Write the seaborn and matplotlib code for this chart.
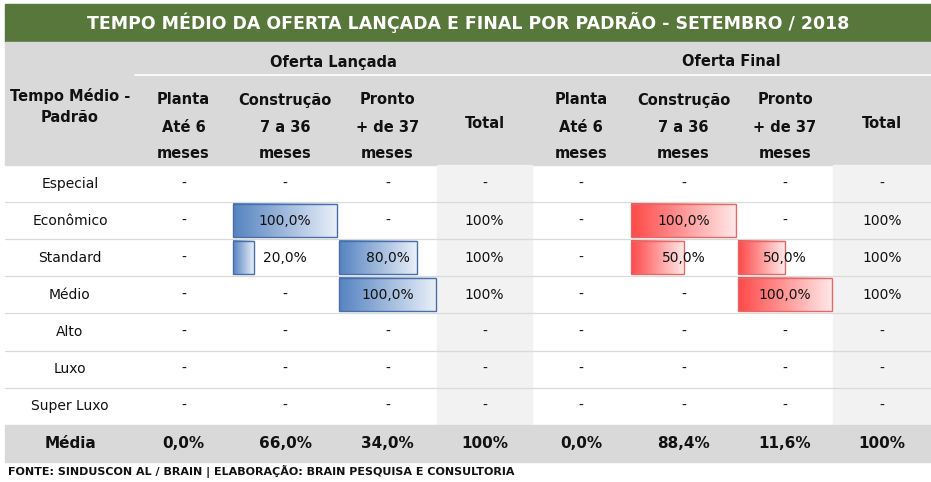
import numpy as np
import pandas as pd
import matplotlib
matplotlib.use('Agg')
import matplotlib.pyplot as plt
import seaborn as sns
from matplotlib.colors import LinearSegmentedColormap
from matplotlib.patches import Rectangle

# Data
padroes = ['Especial', 'Econômico', 'Standard', 'Médio', 'Alto', 'Luxo', 'Super Luxo']
lancada_planta = [np.nan] * 7
lancada_construcao = [np.nan, 100.0, 20.0, np.nan, np.nan, np.nan, np.nan]
lancada_pronto = [np.nan, np.nan, 80.0, 100.0, np.nan, np.nan, np.nan]
lancada_total = [np.nan, 100, 100, 100, np.nan, np.nan, np.nan]
final_planta = [np.nan] * 7
final_construcao = [np.nan, 100.0, 50.0, np.nan, np.nan, np.nan, np.nan]
final_pronto = [np.nan, np.nan, 50.0, 100.0, np.nan, np.nan, np.nan]
final_total = [np.nan, 100, 100, 100, np.nan, np.nan, np.nan]
media_lancada = [0.0, 66.0, 34.0, 100]
media_final = [0.0, 88.4, 11.6, 100]

grupos = ['Oferta Lançada', 'Oferta Final']
sub_titulos = [('Planta', 'Até 6', 'meses'), ('Construção', '7 a 36', 'meses'), ('Pronto', '+ de 37', 'meses')]

titulo = 'TEMPO MÉDIO DA OFERTA LANÇADA E FINAL POR PADRÃO - SETEMBRO / 2018'
fonte = 'FONTE: SINDUSCON AL / BRAIN | ELABORAÇÃO: BRAIN PESQUISA E CONSULTORIA'

sns.set_theme(style='white')
plt.rcParams['font.family'] = ['DejaVu Sans']

# layout (pixel grid)
W, H = 931, 482
edges = [0, 135, 232, 338, 437, 532, 630, 737, 833, 931]
row_top = 165
row_h = 37.1
media_top, media_bot = 425, 462

green = '#58773a'
gray = '#d9d9d9'
light = '#f2f2f2'

blue_cmap = LinearSegmentedColormap.from_list('b', ['#5583c1', '#e9eff8'])
red_cmap = LinearSegmentedColormap.from_list('r', ['#ff4848', '#ffe8e8'])

fig = plt.figure(figsize=(W / 100, H / 100), dpi=100)
ax = fig.add_axes([0, 0, 1, 1])
ax.set_xlim(0, W)
ax.set_ylim(H, 0)
ax.axis('off')

# backgrounds
ax.add_patch(Rectangle((5, 4), W - 5, 38, color=green, zorder=0))
ax.add_patch(Rectangle((5, 42), W - 5, row_top - 42, color=gray, zorder=0))
for c in (4, 8):
    ax.add_patch(Rectangle((edges[c], row_top), edges[c + 1] - edges[c], media_top - row_top,
                           color=light, zorder=0))
ax.add_patch(Rectangle((5, media_top), W - 5, media_bot - media_top, color=gray, zorder=0))
ax.plot([edges[1], W], [75, 75], color='white', lw=1.2, zorder=1)
for i in range(1, len(padroes)):
    y = row_top + i * row_h
    ax.plot([5, W], [y, y], color='#dadada', lw=0.9, zorder=1)

ax.text((5 + W) / 2, 23, titulo, color='white', fontsize=12.5, fontweight='bold',
        ha='center', va='center')

# headers
hdr = dict(fontsize=10.5, fontweight='bold', ha='center', va='center', color='#111111')
ax.text(edges[0] + 70, 96, 'Tempo Médio -', **hdr)
ax.text(edges[0] + 70, 117, 'Padrão', **hdr)
for g, start in enumerate((1, 5)):
    ax.text((edges[start] + edges[start + 4]) / 2, 62, grupos[g], **hdr)
    for k, lines in enumerate(sub_titulos):
        xc = (edges[start + k] + edges[start + k + 1]) / 2
        for line, y in zip(lines, (100, 127, 153)):
            ax.text(xc, y, line, **hdr)
    ax.text((edges[start + 3] + edges[start + 4]) / 2, 123, 'Total', **hdr)

# body
df = pd.DataFrame({
    'padrao': padroes,
    'l_planta': lancada_planta, 'l_constr': lancada_construcao, 'l_pronto': lancada_pronto,
    'l_total': lancada_total,
    'f_planta': final_planta, 'f_constr': final_construcao, 'f_pronto': final_pronto,
    'f_total': final_total,
})
cols = ['l_planta', 'l_constr', 'l_pronto', 'l_total', 'f_planta', 'f_constr', 'f_pronto', 'f_total']
cell = dict(fontsize=10, ha='center', va='center', color='#111111', zorder=4)

for i, row in df.iterrows():
    yc = row_top + (i + 0.5) * row_h
    ax.text(70, yc, row['padrao'], **cell)
    for c, col in enumerate(cols):
        x0, x1 = edges[c + 1], edges[c + 2]
        xc = (x0 + x1) / 2
        v = row[col]
        if np.isnan(v):
            ax.text(xc, yc, '-', **cell)
            continue
        if col.endswith('total'):
            ax.text(xc, yc, f'{v:.0f}%', **cell)
            continue
        # data bar with gradient fill
        cmap = blue_cmap if c < 4 else red_cmap
        edge = '#4a6fa8' if c < 4 else '#e06a6a'
        bx0 = x0 + 1
        bw = (x1 - x0 - 2) * v / 100
        b_top, b_bot = yc - row_h / 2 + 2, yc + row_h / 2 - 2
        ax.imshow(np.linspace(0, 1, 256).reshape(1, -1), cmap=cmap, aspect='auto',
                  extent=(bx0, bx0 + bw, b_bot, b_top), zorder=2, interpolation='bilinear')
        ax.barh(yc, bw, left=bx0, height=b_bot - b_top, fill=False, edgecolor=edge,
                linewidth=1, zorder=3)
        ax.text(xc, yc, f'{v:.1f}%'.replace('.', ','), **cell)

ax.set_xlim(0, W)
ax.set_ylim(H, 0)

# media row
ym = (media_top + media_bot) / 2
mstyle = dict(fontsize=11, fontweight='bold', ha='center', va='center', color='#111111')
ax.text(70, ym, 'Média', **mstyle)
for c, v in enumerate(media_lancada + media_final):
    xc = (edges[c + 1] + edges[c + 2]) / 2
    txt = f'{v:.0f}%' if c in (3, 7) else f'{v:.1f}%'.replace('.', ',')
    ax.text(xc, ym, txt, **mstyle)

ax.text(8, 471, fonte, fontsize=8, fontweight='bold', ha='left', va='center', color='#111111')

fig.savefig('out.png', dpi=100)
